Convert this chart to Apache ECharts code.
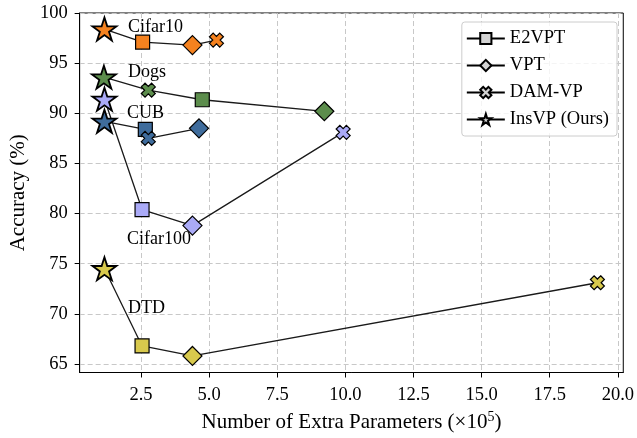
<!DOCTYPE html>
<html>
<head>
<meta charset="utf-8">
<script src="https://cdn.jsdelivr.net/npm/echarts@6/dist/echarts.min.js"></script>
<style>
  html, body { margin: 0; padding: 0; background: #fff; }
  #main { width: 637px; height: 438px; }
</style>
</head>
<body>
<div id="main"></div>
<script>
// methods, in the order they are joined on each line (sorted by params)
var methods = ['InsVP (Ours)', 'E2VPT', 'VPT', 'DAM-VP'];

// dataset rows: [params(x1e5), accuracy] per method
var cifar10  = {insvp: [1.16, 98.4], e2vpt: [2.56, 97.1], vpt: [4.39, 96.8], damvp: [5.27, 97.3]};
var dogs     = {insvp: [1.14, 93.6], e2vpt: [4.75, 91.35], vpt: [9.23, 90.2], damvp: [2.77, 92.3]};
var cub      = {insvp: [1.16, 89.2], e2vpt: [2.66, 88.4], vpt: [4.63, 88.5], damvp: [2.77, 87.5]};
var cifar100 = {insvp: [1.16, 91.4], e2vpt: [2.54, 80.4], vpt: [4.39, 78.8], damvp: [9.92, 88.1]};
var dtd      = {insvp: [1.16, 74.5], e2vpt: [2.54, 66.8], vpt: [4.39, 65.8], damvp: [19.25, 73.1]};

var xTicks = [2.5, 5, 7.5, 10, 12.5, 15, 17.5, 20];
var yTicks = [65, 70, 75, 80, 85, 90, 95, 100];

var STAR = 'path://M100,0L122.45,69.1L195.11,69.1L136.33,111.8L158.78,180.9L100,138.2L41.22,180.9L63.67,111.8L4.89,69.1L77.55,69.1Z';
var XMARK = 'path://M72.6,1.9L98.1,27.4L75.5,50L98.1,72.6L72.6,98.1L50,75.5L27.4,98.1L1.9,72.6L24.5,50L1.9,27.4L27.4,1.9L50,24.5Z';

var symbols = {
  insvp: {symbol: STAR, size: [24, 23]},
  e2vpt: {symbol: 'rect', size: 14},
  vpt: {symbol: 'diamond', size: [19, 19]},
  damvp: {symbol: XMARK, size: 14}
};

var serif = '"Liberation Serif", "DejaVu Serif", serif';

function makeSeries(name, d, color, labelAt, labelText, labelOffset) {
  var keys = ['insvp', 'e2vpt', 'vpt', 'damvp'];
  keys.sort(function (a, b) { return d[a][0] - d[b][0]; });
  var pts = keys.map(function (k) {
    var p = {
      value: d[k],
      symbol: symbols[k].symbol,
      symbolSize: symbols[k].size
    };
    if (k == 'insvp') {
      p.itemStyle = {borderWidth: 1.8};
    }
    if (k == labelAt) {
      p.label = {
        show: true,
        position: 'inside',
        offset: labelOffset,
        formatter: labelText,
        color: '#000',
        fontFamily: serif,
        fontSize: 18
      };
    }
    return p;
  });
  return {
    name: name,
    type: 'line',
    data: pts,
    z: 3,
    lineStyle: {color: '#1a1a1a', width: 1.3},
    itemStyle: {color: color, borderColor: '#000', borderWidth: 1.2},
    emphasis: {disabled: true},
    animation: false
  };
}

var series = [
  makeSeries('Cifar10', cifar10, '#f5821f', 'insvp', 'Cifar10', [51, -2]),
  makeSeries('Dogs', dogs, '#5c8d4c', 'insvp', 'Dogs', [43, -5]),
  makeSeries('Cifar100', cifar100, '#aaaaf7', 'e2vpt', 'Cifar100', [17, 30]),
  makeSeries('CUB', cub, '#3f6c9c', 'insvp', 'CUB', [41, -8]),
  makeSeries('DTD', dtd, '#d8c94d', 'insvp', 'DTD', [42, 40])
];

// legend-only series
var legendSym = {'E2VPT': 'rect', 'VPT': 'diamond', 'DAM-VP': XMARK, 'InsVP (Ours)': STAR};
var legendSize = {'E2VPT': 10, 'VPT': 13, 'DAM-VP': 11, 'InsVP (Ours)': 14};
['E2VPT', 'VPT', 'DAM-VP', 'InsVP (Ours)'].forEach(function (m) {
  series.push({
    name: m,
    type: 'line',
    data: [],
    symbol: legendSym[m],
    symbolSize: legendSize[m],
    lineStyle: {color: '#000', width: 1.5},
    itemStyle: {color: '#d3d3d3', borderColor: '#000', borderWidth: 1.2}
  });
});

var chart = echarts.init(document.getElementById('main'));
chart.setOption({
  animation: false,
  grid: {
    left: 78, right: 11, top: 13, bottom: 63,
    show: true, borderColor: '#000', borderWidth: 1, backgroundColor: 'transparent'
  },
  legend: {
    data: ['E2VPT', 'VPT', 'DAM-VP', 'InsVP (Ours)'],
    orient: 'vertical',
    right: 20, top: 22,
    itemWidth: 38, itemHeight: 14, itemGap: 8,
    padding: [7, 8, 7, 4],
    borderColor: '#cccccc', borderWidth: 1, borderRadius: 3,
    backgroundColor: 'rgba(255,255,255,0.8)',
    textStyle: {fontFamily: serif, fontSize: 18.5, color: '#000'}
  },
  xAxis: {
    type: 'value',
    min: 0.25, max: 20.2,
    name: 'Number of Extra Parameters (×10{sup|5})',
    nameLocation: 'middle',
    nameGap: 38,
    nameTextStyle: {
      fontFamily: serif, fontSize: 21, color: '#000',
      rich: {sup: {fontFamily: serif, fontSize: 14, color: '#000', padding: [0, 0, 10, 0]}}
    },
    axisLine: {show: true, onZero: false, lineStyle: {color: '#000'}},
    axisTick: {show: true, length: 5, customValues: xTicks, lineStyle: {color: '#000'}},
    axisLabel: {
      customValues: xTicks, margin: 13,
      fontFamily: serif, fontSize: 18.5, color: '#000',
      formatter: function (v) { return v.toFixed(1); }
    },
    splitLine: {show: true, lineStyle: {color: '#c8c8c8', type: [5, 3], width: 1}}
  },
  yAxis: {
    type: 'value',
    min: 64.15, max: 100,
    name: 'Accuracy (%)',
    nameLocation: 'middle',
    nameGap: 45,
    nameTextStyle: {fontFamily: serif, fontSize: 21, color: '#000'},
    axisLine: {show: true, onZero: false, lineStyle: {color: '#000'}},
    axisTick: {show: true, length: 5, customValues: yTicks, lineStyle: {color: '#000'}},
    axisLabel: {
      customValues: yTicks, margin: 12,
      fontFamily: serif, fontSize: 18.5, color: '#000'
    },
    splitLine: {show: true, lineStyle: {color: '#c8c8c8', type: [5, 3], width: 1}}
  },
  series: series
});
</script>
</body>
</html>
